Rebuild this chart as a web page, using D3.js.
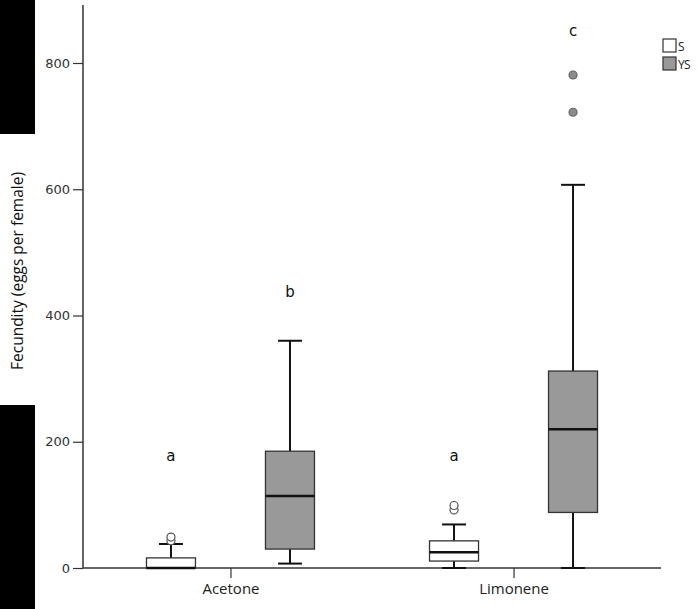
<!DOCTYPE html>
<html><head><meta charset="utf-8">
<script src="https://cdn.jsdelivr.net/npm/d3@7"></script>
<style>body{margin:0;background:#fff}svg{display:block}</style>
</head><body>
<script>
const categories = ["Acetone", "Limonene"];
const groups = ["S", "YS"];
// box stats: [lowerWhisker, q1, median, q3, upperWhisker]
const acetoneS = [0, 0, 0, 16, 38];
const acetoneYS = [7, 30, 114, 185, 360];
const limoneneS = [0, 11, 25, 43, 69];
const limoneneYS = [0, 88, 220, 312, 607];
const acetoneSOut = [43, 49];
const acetoneYSOut = [];
const limoneneSOut = [92, 99];
const limoneneYSOut = [722, 781];
const letters = ["a", "b", "a", "c"];
const letterValues = [178, 438, 178, 850];
const yTicks = [0, 200, 400, 600, 800];

const boxes = [
  {cat: "Acetone", grp: "S", s: acetoneS, out: acetoneSOut},
  {cat: "Acetone", grp: "YS", s: acetoneYS, out: acetoneYSOut},
  {cat: "Limonene", grp: "S", s: limoneneS, out: limoneneSOut},
  {cat: "Limonene", grp: "YS", s: limoneneYS, out: limoneneYSOut}
];

const W = 700, H = 609;
const svg = d3.select("body").append("svg").attr("width", W).attr("height", H);

// black blocks on the left edge
svg.append("rect").attr("x", 0).attr("y", 0).attr("width", 35).attr("height", 134).attr("fill", "#000");
svg.append("rect").attr("x", 0).attr("y", 405).attr("width", 35).attr("height", 204).attr("fill", "#000");

const x0 = 83, x1 = 661;
const y = d3.scaleLinear().domain([0, 800]).range([568, 63]);
const x = d3.scalePoint().domain(categories).range([x0, x1]).padding(0.521);
const xg = d3.scalePoint().domain(groups).range([-59.5, 59.5]);
const boxW = 49;
const stroke = "#333";

// y axis
const yAxis = svg.append("g").attr("transform", `translate(${x0},0)`)
  .call(d3.axisLeft(y).tickValues(yTicks).tickSize(10).tickPadding(3).tickFormat(d3.format("d")));
yAxis.select(".domain").remove();
yAxis.selectAll(".tick line").attr("stroke", stroke).attr("stroke-width", 1.2);
yAxis.selectAll("text").attr("font-family", "DejaVu Sans, Verdana, sans-serif").attr("font-size", 13).attr("fill", "#333");
svg.append("line").attr("x1", x0).attr("x2", x0).attr("y1", 5).attr("y2", y(0)).attr("stroke", stroke).attr("stroke-width", 1.5);

// x axis
svg.append("line").attr("x1", x0).attr("x2", x1).attr("y1", y(0)).attr("y2", y(0)).attr("stroke", stroke).attr("stroke-width", 1.5);
const xAxis = svg.append("g").attr("transform", `translate(0,${y(0)})`)
  .call(d3.axisBottom(x).tickSize(10).tickPadding(5));
xAxis.select(".domain").remove();
xAxis.selectAll(".tick line").attr("stroke", stroke).attr("stroke-width", 1.2);
xAxis.selectAll("text").attr("font-family", "Open Sans, sans-serif").attr("font-size", 15).attr("fill", "#222");

// y title
svg.append("text").attr("transform", `translate(23,${271}) rotate(-90)`)
  .attr("text-anchor", "middle").attr("font-family", "Open Sans, sans-serif").attr("font-size", 15.5)
  .attr("fill", "#111").text("Fecundity (eggs per female)");

const fills = {S: "#fff", YS: "#999"};
const outFill = {S: "#fff", YS: "#8c8c8c"};

boxes.forEach((b, i) => {
  const cx = x(b.cat) + xg(b.grp);
  const g = svg.append("g");
  const [lw, q1, md, q3, uw] = b.s;
  g.append("line").attr("x1", cx).attr("x2", cx).attr("y1", y(q3)).attr("y2", y(uw)).attr("stroke", "#111").attr("stroke-width", 2);
  g.append("line").attr("x1", cx).attr("x2", cx).attr("y1", y(q1)).attr("y2", y(lw)).attr("stroke", "#111").attr("stroke-width", 2);
  g.append("line").attr("x1", cx - 12).attr("x2", cx + 12).attr("y1", y(uw)).attr("y2", y(uw)).attr("stroke", "#111").attr("stroke-width", 2);
  g.append("line").attr("x1", cx - 12).attr("x2", cx + 12).attr("y1", y(lw)).attr("y2", y(lw)).attr("stroke", "#111").attr("stroke-width", 2);
  g.append("rect").attr("x", cx - boxW / 2).attr("y", y(q3)).attr("width", boxW).attr("height", y(q1) - y(q3))
    .attr("fill", fills[b.grp]).attr("stroke", stroke).attr("stroke-width", 1.3);
  g.append("line").attr("x1", cx - boxW / 2).attr("x2", cx + boxW / 2).attr("y1", y(md)).attr("y2", y(md)).attr("stroke", "#111").attr("stroke-width", 2.5);
  b.out.forEach(v => {
    g.append("circle").attr("cx", cx).attr("cy", y(v)).attr("r", 4)
      .attr("fill", outFill[b.grp]).attr("stroke", b.grp === "S" ? "#555" : "#666").attr("stroke-width", 1.2);
  });
  svg.append("text").attr("x", cx).attr("y", y(letterValues[i])).attr("text-anchor", "middle")
    .attr("dominant-baseline", "central").attr("font-family", "DejaVu Sans, Verdana, sans-serif").attr("font-size", 15)
    .attr("fill", "#111").text(letters[i]);
});

// legend
const leg = svg.append("g");
groups.forEach((gname, i) => {
  leg.append("rect").attr("x", 663).attr("y", 39 + i * 18).attr("width", 13).attr("height", 13)
    .attr("fill", fills[gname]).attr("stroke", "#333").attr("stroke-width", 1.2);
  leg.append("text").attr("x", 678).attr("y", 46 + i * 18).attr("dominant-baseline", "central")
    .attr("font-family", "Open Sans, sans-serif").attr("font-size", 12).attr("letter-spacing", -0.8)
    .attr("fill", "#222").text(gname);
});
</script>
</body></html>
